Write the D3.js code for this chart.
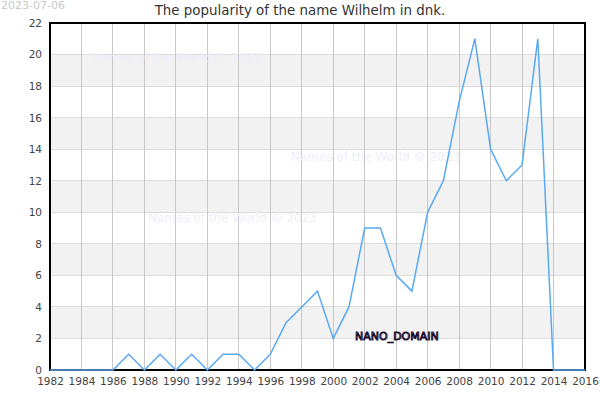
<!DOCTYPE html>
<html>
<head>
<meta charset="utf-8">
<script src="https://cdn.jsdelivr.net/npm/d3@7"></script>
<style>
  body { margin: 0; background: #fff; }
  text { font-family: "DejaVu Sans", sans-serif; }
</style>
</head>
<body>
<div id="chart"></div>
<script>
// data
const years = d3.range(1982, 2017);
const counts = [0, 0, 0, 0, 0, 1, 0, 1, 0, 1, 0, 1, 1, 0, 1, 3, 4, 5, 2, 4,
                9, 9, 6, 5, 10, 12, 17, 21, 14, 12, 13, 21, 0, 0, 0];
const yTicks = [0, 2, 4, 6, 8, 10, 12, 14, 16, 18, 20, 22];
const xTicks = d3.range(1982, 2017, 2);
const bands = [2, 6, 10, 14, 18];

const data = years.map((y, i) => ({year: y, count: counts[i]}));

const width = 600, height = 400;
const margin = {top: 23, right: 15, bottom: 30, left: 50};

const svg = d3.select("#chart")
  .append("svg")
  .attr("width", width)
  .attr("height", height);

const x = d3.scaleLinear()
  .domain([1982, 2016])
  .range([margin.left, width - margin.right]);

const y = d3.scaleLinear()
  .domain([0, 22])
  .range([height - margin.bottom, margin.top]);

// grey bands
svg.append("g")
  .selectAll("rect")
  .data(bands)
  .join("rect")
    .attr("x", x(1982))
    .attr("width", x(2016) - x(1982))
    .attr("y", d => y(d + 2))
    .attr("height", d => y(d) - y(d + 2))
    .style("fill", "#f2f2f2");

// horizontal grid
svg.append("g")
  .selectAll("line")
  .data(yTicks)
  .join("line")
    .attr("x1", x(1982)).attr("x2", x(2016))
    .attr("y1", d => y(d)).attr("y2", d => y(d))
    .style("stroke", "#dddddd")
    .style("shape-rendering", "crispEdges");

// vertical grid
svg.append("g")
  .selectAll("line")
  .data(xTicks)
  .join("line")
    .attr("x1", d => x(d)).attr("x2", d => x(d))
    .attr("y1", y(0)).attr("y2", y(22))
    .style("stroke", "#c8c8c8")
    .style("shape-rendering", "crispEdges");

// watermarks
const marks = [[92, 62], [148, 222], [291, 161]];
svg.append("g")
  .selectAll("text")
  .data(marks)
  .join("text")
    .attr("x", d => d[0])
    .attr("y", d => d[1])
    .style("font-size", "12px")
    .style("fill", "#eeeefa")
    .text("Names of the World © 2023");

// frame
svg.append("rect")
  .attr("x", x(1982))
  .attr("y", y(22))
  .attr("width", x(2016) - x(1982))
  .attr("height", y(0) - y(22))
  .style("fill", "none")
  .style("stroke", "#000")
  .style("stroke-width", 1.2)
  .style("shape-rendering", "crispEdges");

// line (on top of the frame so the zero runs show)
const line = d3.line()
  .x(d => x(d.year))
  .y(d => y(d.count));

svg.append("path")
  .datum(data)
  .attr("d", line)
  .style("fill", "none")
  .style("stroke", "#5aa9f0")
  .style("stroke-width", 1.5);

// axes
const xAxis = svg.append("g")
  .attr("transform", `translate(0, ${y(0)})`)
  .call(d3.axisBottom(x).tickValues(xTicks).tickFormat(d3.format("d")).tickSize(0).tickPadding(8));
xAxis.select(".domain").remove();

const yAxis = svg.append("g")
  .attr("transform", `translate(${x(1982)}, 0)`)
  .call(d3.axisLeft(y).tickValues(yTicks).tickSize(0).tickPadding(8));
yAxis.select(".domain").remove();

svg.selectAll(".tick text")
  .style("font-family", "DejaVu Sans, sans-serif")
  .style("font-size", "10.5px")
  .style("fill", "#444");

// title and date
svg.append("text")
  .attr("x", 300)
  .attr("y", 15)
  .attr("text-anchor", "middle")
  .style("font-size", "13.4px")
  .style("fill", "#333")
  .text("The popularity of the name Wilhelm in dnk.");

svg.append("text")
  .attr("x", 1)
  .attr("y", 9)
  .style("font-size", "11px")
  .style("fill", "#c8c8c8")
  .text("2023-07-06");

// domain label
svg.append("text")
  .attr("x", 355)
  .attr("y", 340)
  .style("font-size", "11px")
  .style("fill", "#a898b8")
  .style("stroke", "#1e0e2e")
  .style("stroke-width", 0.9)
  .text("NANO_DOMAIN");
</script>
</body>
</html>
